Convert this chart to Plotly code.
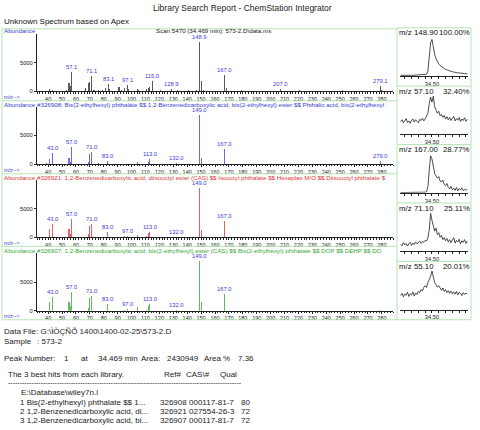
import plotly.graph_objects as go

W, H = 480, 430

# ---- spectra (m/z, abundance) ----
unk_mz = [41, 43, 53, 55, 56, 57.1, 67, 69, 70, 71.1, 73, 76, 79, 81, 83.1, 84, 91, 93, 95, 97.1, 98,
          104, 105, 111, 112, 113, 115.0, 121, 128.9, 133, 141, 147, 148.9, 150, 152, 167.0, 168,
          179, 207.0, 221, 235, 252, 261, 279.1, 280]
unk_ab = [400, 300, 250, 1500, 900, 3300, 600, 1400, 1600, 2600, 300, 200, 300, 500, 1200, 400, 700,
          300, 600, 1100, 350, 450, 250, 400, 550, 700, 1800, 250, 400, 150, 200, 250, 8500, 1800,
          200, 2800, 500, 150, 350, 150, 100, 150, 120, 900, 200]
unk_lab = [57.1, 71.1, 83.1, 97.1, 115.0, 128.9, 148.9, 167.0, 207.0, 279.1]

lib1_mz = [39, 41, 43, 55, 56, 57, 69, 70, 71, 76, 83, 104, 112, 113, 132, 149, 150, 167, 279]
lib1_ab = [200, 900, 1900, 1100, 300, 3000, 400, 1700, 2100, 150, 600, 450, 400, 900, 120, 8600,
           1100, 2600, 600]
lib1_lab = [43, 57, 71, 83, 113, 132, 149, 167, 279]

lib2_mz = [41, 43, 55, 56, 57, 69, 70, 71, 83, 95, 97, 104, 111, 112, 113, 132, 149, 150, 167]
lib2_ab = [1400, 2400, 1400, 600, 3200, 600, 2000, 2400, 850, 250, 300, 450, 250, 700, 1000, 120,
           8600, 1300, 2900]
lib2_lab = [43, 57, 71, 83, 97, 113, 132, 149, 167]

lib3_mz = [41, 43, 55, 56, 57, 69, 70, 71, 83, 95, 97, 104, 111, 112, 113, 132, 149, 150, 167, 279]
lib3_ab = [1500, 2400, 1500, 800, 3300, 500, 2300, 2500, 1100, 200, 350, 700, 200, 800, 1250, 120,
           8600, 1500, 3000, 150]
lib3_lab = [43, 57, 71, 83, 97, 113, 132, 149, 167]

# ---- extracted ion traces (percent of own max) ----
eic_time = [34.04, 34.06, 34.08, 34.10, 34.12, 34.14, 34.16, 34.18, 34.20, 34.22,
            34.24, 34.26, 34.28, 34.30, 34.32, 34.34, 34.36, 34.38, 34.40, 34.42,
            34.44, 34.46, 34.48, 34.50, 34.52, 34.54, 34.56, 34.58, 34.60, 34.62,
            34.64, 34.66, 34.68, 34.70, 34.72, 34.74, 34.76, 34.78, 34.80, 34.82,
            34.84, 34.86, 34.88, 34.90, 34.92, 34.94, 34.96, 34.98, 35.00, 35.02]
eic_1489 = [1.5, 1.8, 1.4, 1.7, 1.9, 1.5, 1.6, 1.8, 1.5, 1.7, 1.9, 1.6, 1.8, 1.7, 2.0, 1.8, 2.2, 2.5, 3.0, 4.5,
            12, 48, 86, 95, 74, 56, 45, 37, 31, 27, 24, 21, 19, 17, 16, 14, 13, 12, 11, 10,
            9, 9, 8, 8, 7, 7, 6, 6, 6, 5]
eic_571 = [33, 38, 30, 36, 41, 31, 35, 29, 37, 40, 32, 38, 34, 30, 39, 36, 42, 35, 40, 46,
           55, 80, 97, 84, 99, 72, 64, 55, 60, 48, 52, 44, 49, 40, 46, 38, 44, 36, 42, 47,
           35, 41, 37, 44, 33, 40, 36, 43, 34, 39]
eic_1670 = [0.5, 0.6, 0.4, 0.5, 0.7, 0.5, 0.4, 0.6, 0.5, 0.6, 0.4, 0.5, 0.7, 0.5, 0.6, 0.8, 0.6, 1.0, 1.5, 3,
            15, 58, 96, 88, 64, 50, 44, 38, 42, 30, 28, 33, 22, 18, 24, 14, 10, 17, 8, 12,
            6, 14, 5, 11, 7, 13, 5, 9, 6, 10]
eic_711 = [18, 14, 22, 16, 20, 13, 19, 23, 15, 21, 17, 24, 19, 22, 26, 20, 25, 23, 28, 26,
           34, 55, 98, 80, 66, 52, 60, 43, 48, 36, 41, 30, 35, 27, 33, 24, 30, 22, 29, 35,
           21, 28, 24, 31, 19, 27, 23, 30, 20, 26]
eic_551 = [36, 42, 33, 40, 37, 45, 34, 41, 38, 46, 35, 43, 39, 47, 44, 52, 48, 58, 62, 57,
           70, 78, 86, 100, 80, 70, 64, 58, 62, 55, 50, 56, 47, 52, 44, 49, 42, 48, 41, 46,
           40, 47, 38, 45, 42, 36, 44, 39, 43, 40]
eic_mz = ["148.90", "57.10", "167.00", "71.10", "55.10"]
eic_pct = ["100.00%", "32.40%", "28.77%", "25.11%", "20.01%"]
eic_ticks = [34.1, 34.2, 34.3, 34.4, 34.5, 34.6, 34.7, 34.8, 34.9, 35.0]

hit_names = ["1 Bis(2-ethylhexyl) phthalate $$ 1...",
             "2 1,2-Benzenedicarboxylic acid, di...",
             "3 1,2-Benzenedicarboxylic acid, bi..."]
hit_refs = ["326908", "326921", "326907"]
hit_cas = ["000117-81-7", "027554-26-3", "000117-81-7"]
hit_qual = ["80", "72", "72"]

FONT = "Liberation Sans, Arial, sans-serif"
BLUE = "#3b3bd6"
FRAME = "#b4e4b4"


def px(x):
    return x / W


def py(y):
    return 1 - y / H


fig = go.Figure()
ann = []
shapes = []
axes = {}


def txt(x, y, s, size, color="#1a1a1a", anchor="left"):
    ann.append(dict(x=px(x), y=py(y), xref="paper", yref="paper", text=s, showarrow=False,
                    xanchor=anchor, yanchor="middle", borderpad=0,
                    font=dict(family=FONT, size=size, color=color)))


def line(x0, y0, x1, y1):
    shapes.append(dict(type="line", xref="paper", yref="paper", x0=px(x0), y0=py(y0),
                       x1=px(x1), y1=py(y1), line=dict(color=FRAME, width=1)))


# titles
txt(242, 8, "Library Search Report - ChemStation Integrator", 8.5, "#222", "center")
txt(3, 22, "Unknown Spectrum based on Apex", 8, "#111")

rows = [
    dict(mz=unk_mz, ab=unk_ab, lab=unk_lab, bar="#5a5a5a", col=BLUE, head=None),
    dict(mz=lib1_mz, ab=lib1_ab, lab=lib1_lab, bar="#6a6aea", col=BLUE,
         head="Abundance #326908: Bis(2-ethylhexyl) phthalate $$ 1,2-Benzenedicarboxylic acid, "
              "bis(2-ethylhexyl) ester $$ Phthalic acid, bis(2-ethylhexyl"),
    dict(mz=lib2_mz, ab=lib2_ab, lab=lib2_lab, bar="#e46262", col="#e03636",
         head="Abundance #326921: 1,2-Benzenedicarboxylic acid, diisooctyl ester (CAS) $$ "
              "Isooctyl phthalate $$ Hexaplas M/O $$ Diisooctyl phthalate $"),
    dict(mz=lib3_mz, ab=lib3_ab, lab=lib3_lab, bar="#62ba62", col="#34a834",
         head="Abundance #326907: 1,2-Benzenedicarboxylic acid, bis(2-ethylhexyl) ester (CAS) $$ "
              "Bis(2-ethylhexyl) phthalate $$ DOP $$ DEHP $$ DO"),
]
base = [92, 165.3, 239, 313]
head_y = [31, 105.5, 179, 252.5]

for k, r in enumerate(rows):
    n = k + 1
    sx = "" if n == 1 else str(n)
    fig.add_trace(go.Bar(x=r["mz"], y=r["ab"], width=0.8, marker=dict(color=r["bar"], line_width=0),
                         xaxis="x" + sx, yaxis="y" + sx, showlegend=False, hoverinfo="skip"))
    b = base[k]
    axes["xaxis" + sx] = dict(domain=[px(37), px(393)], range=[32, 288], anchor="y" + sx,
                              showline=True, linecolor="#222", linewidth=1, ticks="outside",
                              ticklen=2, tickcolor="#222", tick0=0, dtick=10, showgrid=False,
                              zeroline=False, tickfont=dict(family=FONT, size=5.5, color="#222"),
                              minor=dict(dtick=2, tick0=0, ticks="outside", ticklen=1.2,
                                         tickcolor="#222", showgrid=False))
    axes["yaxis" + sx] = dict(domain=[py(b), py(b - 58)], range=[0, 10000], anchor="x" + sx,
                              showline=True, linecolor="#222", linewidth=1, ticks="outside",
                              ticklen=2, tickcolor="#222", tickvals=[0, 5000], showgrid=False,
                              zeroline=False, tickfont=dict(family=FONT, size=5.8, color="#222"))
    for m in r["lab"]:
        a = r["ab"][r["mz"].index(m)]
        ann.append(dict(x=m, y=a, xref="x" + sx, yref="y" + sx, text=f"{m:.1f}", showarrow=False,
                        yanchor="bottom", yshift=1, borderpad=0,
                        font=dict(family=FONT, size=5.8, color=BLUE)))
    txt(3, b + 5.5, "m/z--&gt;", 5.5, BLUE)
    if r["head"] is None:
        txt(3, head_y[k], "Abundance", 6.2, BLUE)
        txt(155, head_y[k], "Scan 5470 (34.469 min): 573-2.D\\data.ms", 6.2, "#1a1a1a")
    else:
        txt(3, head_y[k], r["head"], 6.2, r["col"])

# ion traces on the right
eics = [eic_1489, eic_571, eic_1670, eic_711, eic_551]
box_top = [28, 86.8, 145.6, 204.4, 263.2]
tick_text = ["34.50" if abs(v - 34.5) < 1e-9 else "" for v in eic_ticks]
for j, vals in enumerate(eics):
    n = 5 + j
    sx = str(n)
    t = box_top[j]
    fig.add_trace(go.Scatter(x=eic_time, y=vals, mode="lines", line=dict(color="#222", width=0.8),
                             xaxis="x" + sx, yaxis="y" + sx, showlegend=False, hoverinfo="skip"))
    axes["xaxis" + sx] = dict(domain=[px(400), px(468)], range=[34.03, 35.03], anchor="y" + sx,
                              showline=True, linecolor="#222", linewidth=1, ticks="outside",
                              ticklen=2, tickcolor="#222", tickvals=eic_ticks, ticktext=tick_text,
                              showgrid=False, zeroline=False,
                              tickfont=dict(family=FONT, size=5.8, color="#222"))
    axes["yaxis" + sx] = dict(domain=[py(t + 48.5), py(t + 9)], range=[0, 102], anchor="x" + sx,
                              visible=False)
    txt(398, t + 5.2, "m/z", 7.8, "#111")
    txt(413, t + 5.2, eic_mz[j], 7.8, "#111")
    txt(471, t + 5.2, eic_pct[j], 7.8, "#111", "right")

# green frames
for y in [29, 101.5, 175, 248, 322]:
    line(2, y, 397, y)
line(2, 29, 2, 322)
for y in box_top + [322]:
    line(397, y, 471, y)
line(397, 28, 397, 322)
line(471, 28, 471, 322)

# report text
txt(3, 334, "Data File: G:\\ÌÒÇÑÕ 1400\\1400-02-25\\573-2.D", 8)
txt(3, 344, "Sample", 8)
txt(36, 344, ": 573-2", 8)
peak_parts = [(3, "Peak Number:"), (63, "1"), (80, "at"), (97, "34.469 min"), (140, "Area:"),
              (166, "2430949"), (203, "Area %"), (237, "7.36")]
for x, s in peak_parts:
    txt(x, 361, s, 8)
txt(7, 377, "The 3 best hits from each library.", 8)
txt(163, 377, "Ref#", 8)
txt(185, 377, "CAS\\#", 8)
txt(219, 377, "Qual", 8)
txt(7, 385, "-" * 100, 7)
txt(20, 395, "E:\\Database\\wiley7n.l", 8)
for i in range(3):
    yy = 405 + 9 * i
    txt(19, yy, hit_names[i], 8)
    txt(159, yy, hit_refs[i], 8)
    txt(188, yy, hit_cas[i], 8)
    txt(240, yy, hit_qual[i], 8)

fig.update_layout(width=W, height=H, autosize=False, margin=dict(l=0, r=0, t=0, b=0),
                  paper_bgcolor="white", plot_bgcolor="white", annotations=ann, shapes=shapes,
                  bargap=0, font=dict(family=FONT), hovermode=False, **axes)

fig.write_html("out.html", config={"displayModeBar": False, "staticPlot": True},
               post_script="document.body.style.margin='0';")
